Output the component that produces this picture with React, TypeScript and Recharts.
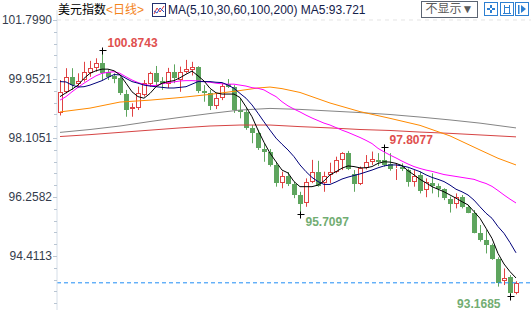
import { Bar, ComposedChart, Line, ReferenceDot, ReferenceLine, XAxis, YAxis } from "recharts";

// daily candles, oldest first
const opens = [
  98.9, 99.55, 100.0, 99.79, 99.92, 100.13, 100.31, 100.44, 100.18, 100.05,
  99.97, 99.47, 99.01, 99.03, 99.45, 99.79, 100.15, 99.89, 99.79, 100.18,
  99.92, 100.18, 100.23, 100.32, 99.58, 99.5, 99.12, 99.37, 99.79, 99.71,
  98.98, 98.93, 98.43, 98.25, 97.76, 97.66, 97.26, 96.7, 96.91, 96.66,
  96.32, 96.06, 96.72, 97.03, 96.69, 96.95, 97.03, 97.42, 97.65, 96.98,
  96.66, 97.18, 97.36, 97.42, 97.42, 97.29, 97.12, 97.2, 97.1, 96.73,
  96.94, 96.48, 96.7, 96.59, 96.5, 96.19, 96.03, 96.25, 95.95, 95.77,
  95.14, 94.91, 94.75, 94.31, 93.64, 93.74, 93.24,
];
const highs = [
  99.92, 100.29, 100.29, 100.13, 100.49, 100.52, 100.6, 100.8743, 100.25, 100.13,
  100.02, 99.61, 99.19, 99.71, 99.92, 100.18, 100.36, 100.01, 100.3, 100.41,
  100.34, 100.55, 100.49, 100.35, 99.76, 99.61, 99.5, 99.82, 99.95, 99.76,
  99.35, 99.04, 98.51, 98.36, 97.94, 97.76, 97.36, 97.05, 97.04, 96.73,
  96.42, 96.84, 97.42, 97.39, 97.05, 97.33, 97.52, 97.66, 97.7, 97.1,
  97.21, 97.57, 97.68, 97.63, 97.8077, 97.63, 97.31, 97.31, 97.15, 97.1,
  97.05, 96.84, 97.0, 96.68, 96.53, 96.27, 96.37, 96.32, 96.01, 95.85,
  95.38, 95.22, 94.8, 94.37, 94.02, 93.81, 93.62,
];
const lows = [
  98.81, 99.5, 99.61, 99.71, 99.87, 100.02, 100.18, 99.92, 99.92, 99.82,
  99.45, 98.77, 98.77, 98.98, 99.4, 99.71, 99.73, 99.61, 99.67, 99.82,
  99.55, 100.13, 100.06, 99.51, 99.24, 98.98, 99.01, 99.29, 99.67, 98.89,
  98.72, 98.36, 97.94, 97.73, 97.36, 97.21, 96.58, 96.53, 96.6, 96.22,
  95.7097, 95.95, 96.69, 96.58, 96.42, 96.69, 97.0, 97.1, 97.1, 96.42,
  96.63, 97.12, 97.26, 97.23, 97.21, 97.08, 96.79, 97.07, 96.58, 96.58,
  96.37, 96.25, 96.37, 96.25, 96.16, 95.77, 95.9, 95.9, 95.75, 95.12,
  94.86, 94.49, 94.29, 93.45, 93.5, 93.1685, 93.21,
];
const closes = [
  99.54, 100.0, 99.76, 99.9, 100.16, 100.29, 100.44, 100.13, 100.02, 99.94,
  99.5, 98.98, 99.08, 99.5, 99.82, 100.13, 99.85, 99.8, 100.16, 99.97,
  100.16, 100.25, 100.32, 99.58, 99.52, 99.12, 99.37, 99.73, 99.71, 98.98,
  98.93, 98.43, 98.25, 97.78, 97.66, 97.26, 96.7, 96.92, 96.66, 96.32,
  96.04, 96.72, 97.03, 96.6, 96.92, 97.03, 97.42, 97.63, 97.13, 96.66,
  97.15, 97.34, 97.45, 97.35, 97.26, 97.12, 97.18, 97.12, 96.73, 96.91,
  96.45, 96.72, 96.61, 96.5, 96.22, 96.03, 96.25, 95.95, 95.77, 95.14,
  94.91, 94.75, 94.31, 93.57, 93.73, 93.24, 93.57,
];

// moving averages
const ma5 = [
  99.4, 99.52, 99.63, 99.76, 99.97, 100.13, 100.21, 100.26, 100.26, 100.21,
  100.08, 99.82, 99.55, 99.4, 99.35, 99.5, 99.71, 99.82, 99.87, 99.9,
  99.99, 100.1, 100.2, 100.05, 99.89, 99.66, 99.52, 99.48, 99.48, 99.48,
  99.37, 99.08, 98.77, 98.35, 97.97, 97.63, 97.36, 97.1, 97.01, 96.74,
  96.58, 96.58, 96.58, 96.63, 96.76, 96.95, 97.05, 97.16, 97.23, 97.21,
  97.17, 97.17, 97.21, 97.31, 97.36, 97.35, 97.31, 97.24, 97.08, 96.95,
  96.81, 96.7, 96.58, 96.5, 96.42, 96.32, 96.22, 96.11, 96.01, 95.8,
  95.59, 95.28, 94.96, 94.49, 94.16, 93.92, 93.721,
];
const ma10 = [
  99.87, 99.86, 99.76, 99.7, 99.71, 99.76, 99.83, 99.9, 100.0, 100.09,
  100.08, 99.97, 99.87, 99.82, 99.76, 99.73, 99.71, 99.69, 99.67, 99.67,
  99.69, 99.71, 99.79, 99.87, 99.87, 99.87, 99.85, 99.84, 99.76, 99.66,
  99.5, 99.35, 99.14, 98.88, 98.61, 98.35, 98.1, 97.91, 97.73, 97.52,
  97.26, 97.05, 96.87, 96.74, 96.65, 96.65, 96.73, 96.82, 96.88, 96.93,
  96.98, 97.04, 97.1, 97.17, 97.23, 97.26, 97.26, 97.23, 97.19, 97.12,
  97.05, 96.95, 96.87, 96.81, 96.74, 96.63, 96.5, 96.42, 96.32, 96.16,
  95.95, 95.75, 95.59, 95.33, 95.12, 94.83, 94.51,
];
const ma30 = [
  99.29, 99.4, 99.55, 99.69, 99.82, 99.94, 100.05, 100.13, 100.16, 100.18,
  100.13, 100.02, 99.92, 99.84, 99.78, 99.75, 99.75, 99.8, 99.84, 99.86,
  99.89, 99.9, 99.9, 99.89, 99.87, 99.85, 99.82, 99.8, 99.79, 99.79,
  99.76, 99.73, 99.68, 99.66, 99.61, 99.5, 99.4, 99.24, 99.11, 99.01,
  98.92, 98.82, 98.73, 98.65, 98.57, 98.51, 98.43, 98.35, 98.28, 98.2,
  98.12, 98.03, 97.93, 97.78, 97.67, 97.57, 97.48, 97.38, 97.29, 97.21,
  97.15, 97.1, 97.06, 97.01, 96.96, 96.93, 96.9, 96.87, 96.84, 96.81,
  96.74, 96.68, 96.59, 96.46, 96.32, 96.19, 96.07,
];
// slow averages: [candle index, value]
const ma60Points = [
  [0, 98.92], [5, 99.04], [10, 99.23], [15, 99.29], [20, 99.37], [25, 99.47],
  [30, 99.59], [33, 99.67], [35, 99.7], [37, 99.65], [40, 99.53], [45, 99.2],
  [50, 98.93], [55, 98.72], [60, 98.5], [65, 98.17], [70, 97.73], [73, 97.47], [76, 97.26],
];
const ma100Points = [
  [0, 98.28], [5, 98.37], [10, 98.48], [15, 98.62], [20, 98.75], [25, 98.87],
  [30, 98.98], [35, 99.03], [40, 99.0], [45, 98.95], [50, 98.9], [55, 98.84],
  [60, 98.76], [65, 98.67], [70, 98.57], [76, 98.42],
];
const ma200Points = [
  [0, 98.15], [5, 98.21], [10, 98.28], [15, 98.35], [20, 98.42], [25, 98.48],
  [30, 98.51], [35, 98.51], [40, 98.46], [45, 98.42], [50, 98.37], [55, 98.34],
  [60, 98.29], [65, 98.25], [70, 98.2], [76, 98.14],
];

const yTickValues = [101.799, 99.9521, 98.1051, 96.2582, 94.4113];
const yTickLabels = ["101.7990", "99.9521", "98.1051", "96.2582", "94.4113"];
const yDomain = [92.719, 102.112];
const highMarks = [7, 54];
const lowMarks = [40, 75];

const RED = "#e04343";
const GREEN = "#5ea55e";
const FONT = "Arial, 'Liberation Sans', 'Noto Sans CJK SC', sans-serif";

type Row = {
  i: number;
  open: number;
  high: number;
  low: number;
  close: number;
  range: number[];
  ma5: number;
  ma10: number;
  ma30: number;
  ma60: number | null;
  ma100: number | null;
  ma200: number | null;
};

const data: Row[] = opens.map((open, i) => ({
  i,
  open,
  high: highs[i],
  low: lows[i],
  close: closes[i],
  range: [lows[i], highs[i]],
  ma5: ma5[i],
  ma10: ma10[i],
  ma30: ma30[i],
  ma60: null,
  ma100: null,
  ma200: null,
}));
ma60Points.forEach(([i, v]) => (data[i].ma60 = v));
ma100Points.forEach(([i, v]) => (data[i].ma100 = v));
ma200Points.forEach(([i, v]) => (data[i].ma200 = v));

// each labelled tick plus four minor ticks under it, continuing to the bottom
const tickStep = (yTickValues[0] - yTickValues[1]) / 5;
const allTicks: number[] = [];
yTickValues.forEach((major) => {
  for (let k = 0; k < 5; k++) {
    const v = major - k * tickStep;
    if (v > yDomain[0]) allTicks.push(k === 0 ? major : +v.toFixed(5));
  }
});

function Candle(props: any) {
  const { x, y, width, height, payload } = props;
  const top = Math.min(y, y + height);
  const span = Math.abs(height);
  const unit = span / (payload.high - payload.low || 1);
  const at = (v: number) => top + (payload.high - v) * unit;
  const cx = Math.round(x + width / 2);
  const up = payload.close >= payload.open;
  const color = up ? RED : GREEN;
  const bTop = Math.round(at(Math.max(payload.open, payload.close)));
  const bBot = Math.max(Math.round(at(Math.min(payload.open, payload.close))), bTop + 1);
  return (
    <g>
      <line x1={cx + 0.5} x2={cx + 0.5} y1={top} y2={bTop} stroke={color} />
      <line x1={cx + 0.5} x2={cx + 0.5} y1={bBot} y2={top + span} stroke={color} />
      {up ? (
        <rect x={cx - 1.5} y={bTop + 0.5} width={4} height={Math.max(bBot - bTop - 1, 0)} fill="#fff" stroke={color} />
      ) : (
        <rect x={cx - 2} y={bTop} width={5} height={bBot - bTop} fill={color} />
      )}
    </g>
  );
}

function AxisTick(props: any) {
  const { x, y, payload } = props;
  const idx = yTickValues.findIndex((v) => Math.abs(v - payload.value) < 1e-3);
  const py = Math.round(y) + 0.5;
  return (
    <g>
      <line x1={idx >= 0 ? x : x + 1} x2={x + 4} y1={py} y2={py} stroke="#b9c5d2" />
      {idx >= 0 && (
        <text x={x - 1} y={y} dy={4} textAnchor="end" fontSize={12} fontFamily={FONT} fill="#343c4c">
          {yTickLabels[idx]}
        </text>
      )}
    </g>
  );
}

function ExtremeMark(props: any) {
  const { cx, cy, value, kind, toLeft } = props;
  const px = Math.round(cx) + 0.5;
  const py = Math.round(cy) + 0.5;
  return (
    <g>
      <line x1={px - 3} x2={px + 4} y1={py} y2={py} stroke="#000" />
      <line x1={px} x2={px} y1={py - 3} y2={py + 4} stroke="#000" />
      <text
        x={toLeft ? px - 10 : px + 5}
        y={kind === "high" ? py - 8 : py + 7}
        dy={4}
        textAnchor={toLeft ? "end" : "start"}
        fontSize={12}
        fontWeight="bold"
        fontFamily={FONT}
        fill={kind === "high" ? "#e0504e" : "#72ad72"}
      >
        {value.toFixed(4)}
      </text>
    </g>
  );
}

function MaIcon() {
  return (
    <svg width={14} height={14} style={{ display: "block" }}>
      <rect x={0.5} y={0.5} width={13} height={13} fill="#fff" stroke="#23306e" />
      <polyline points="2,11 5,5 8,9 12,3" fill="none" stroke="#e03a3a" />
      <polyline points="2,8 5,10 8,5 12,9" fill="none" stroke="#2a50c8" />
    </svg>
  );
}

function ToolIcon({ kind }: { kind: number }) {
  const c = "#2d80d2";
  return (
    <svg width={14} height={14} style={{ display: "block" }}>
      <rect x={0.5} y={0.5} width={13} height={13} fill="#fff" stroke={c} />
      {kind === 0 && (
        <g fill={c}>
          <rect x={6} y={3} width={2} height={3} />
          <rect x={6} y={8} width={2} height={3} />
          <rect x={3} y={6} width={3} height={2} />
          <rect x={8} y={6} width={3} height={2} />
        </g>
      )}
      {kind === 1 && (
        <g stroke={c}>
          <line x1={4.5} x2={4.5} y1={3} y2={11} />
          <line x1={9.5} x2={9.5} y1={3} y2={11} />
          <line x1={3} x2={11} y1={11.5} y2={11.5} />
          <line x1={5} x2={9} y1={5.5} y2={5.5} />
        </g>
      )}
      {kind === 2 && (
        <g fill={c}>
          <rect x={3} y={3} width={1.5} height={9} />
          <polygon points="6,3 11,7 6,11" />
        </g>
      )}
    </svg>
  );
}

export default function App() {
  const last = data.length - 1;
  return (
    <div style={{ position: "absolute", left: 0, top: 0, width: 531, height: 310, background: "#fff", fontFamily: FONT, overflow: "hidden" }}>
      <ComposedChart width={531} height={310} data={data} margin={{ top: 10, right: 0, bottom: 0, left: 0 }}>
        <XAxis dataKey="i" hide padding={{ left: 0, right: 12 }} />
        <YAxis
          type="number"
          domain={yDomain}
          allowDataOverflow
          ticks={allTicks}
          interval={0}
          width={57}
          tickSize={0}
          tickMargin={4}
          tickLine={false}
          axisLine={{ stroke: "#d5dee8" }}
          tick={(p: any) => <AxisTick {...p} />}
        />
        <ReferenceLine y={yTickValues[0]} stroke="#e4e4e4" strokeDasharray="4 4" />
        <Bar dataKey="range" shape={(p: any) => <Candle {...p} />} isAnimationActive={false} />
        <Line dataKey="ma200" stroke="#d64444" strokeWidth={1} dot={false} connectNulls isAnimationActive={false} />
        <Line dataKey="ma100" stroke="#858585" strokeWidth={1} dot={false} connectNulls isAnimationActive={false} />
        <Line dataKey="ma60" stroke="#ff8a00" strokeWidth={1} dot={false} connectNulls isAnimationActive={false} />
        <Line dataKey="ma30" stroke="#ff00ff" strokeWidth={1} dot={false} isAnimationActive={false} />
        <Line dataKey="ma10" stroke="#00007a" strokeWidth={1} dot={false} isAnimationActive={false} />
        <Line dataKey="ma5" stroke="#000000" strokeWidth={1} dot={false} isAnimationActive={false} />
        <ReferenceLine y={closes[last]} stroke="#1e8cf5" strokeDasharray="4 3" />
        {highMarks.map((i) => (
          <ReferenceDot key={`h${i}`} x={i} y={highs[i]} r={0} shape={(p: any) => <ExtremeMark {...p} value={highs[i]} kind="high" toLeft={i > last - 5} />} />
        ))}
        {lowMarks.map((i) => (
          <ReferenceDot key={`l${i}`} x={i} y={lows[i]} r={0} shape={(p: any) => <ExtremeMark {...p} value={lows[i]} kind="low" toLeft={i > last - 5} />} />
        ))}
      </ComposedChart>
      <div style={{ position: "absolute", left: 58, top: 2, display: "flex", alignItems: "center", fontSize: 12, lineHeight: "16px", whiteSpace: "nowrap" }}>
        <span style={{ color: "#000" }}>美元指数</span>
        <span style={{ color: "#f4841c" }}>&lt;日线&gt;</span>
        <span style={{ marginLeft: 8, marginRight: 2 }}>
          <MaIcon />
        </span>
        <span style={{ color: "#14204a" }}>
          MA(5,10,30,60,100,200) MA5:{ma5[last].toFixed(3)}
        </span>
      </div>
      <div
        style={{
          position: "absolute",
          left: 421,
          top: 1,
          width: 55,
          height: 15,
          border: "1px solid #5c6573",
          color: "#5a5a5a",
          fontSize: 12,
          lineHeight: "15px",
          textAlign: "center",
        }}
      >
        不显示▼
      </div>
      {[0, 1, 2].map((k) => (
        <div key={k} style={{ position: "absolute", left: 484 + k * 15.5, top: 2 }}>
          <ToolIcon kind={k} />
        </div>
      ))}
    </div>
  );
}
